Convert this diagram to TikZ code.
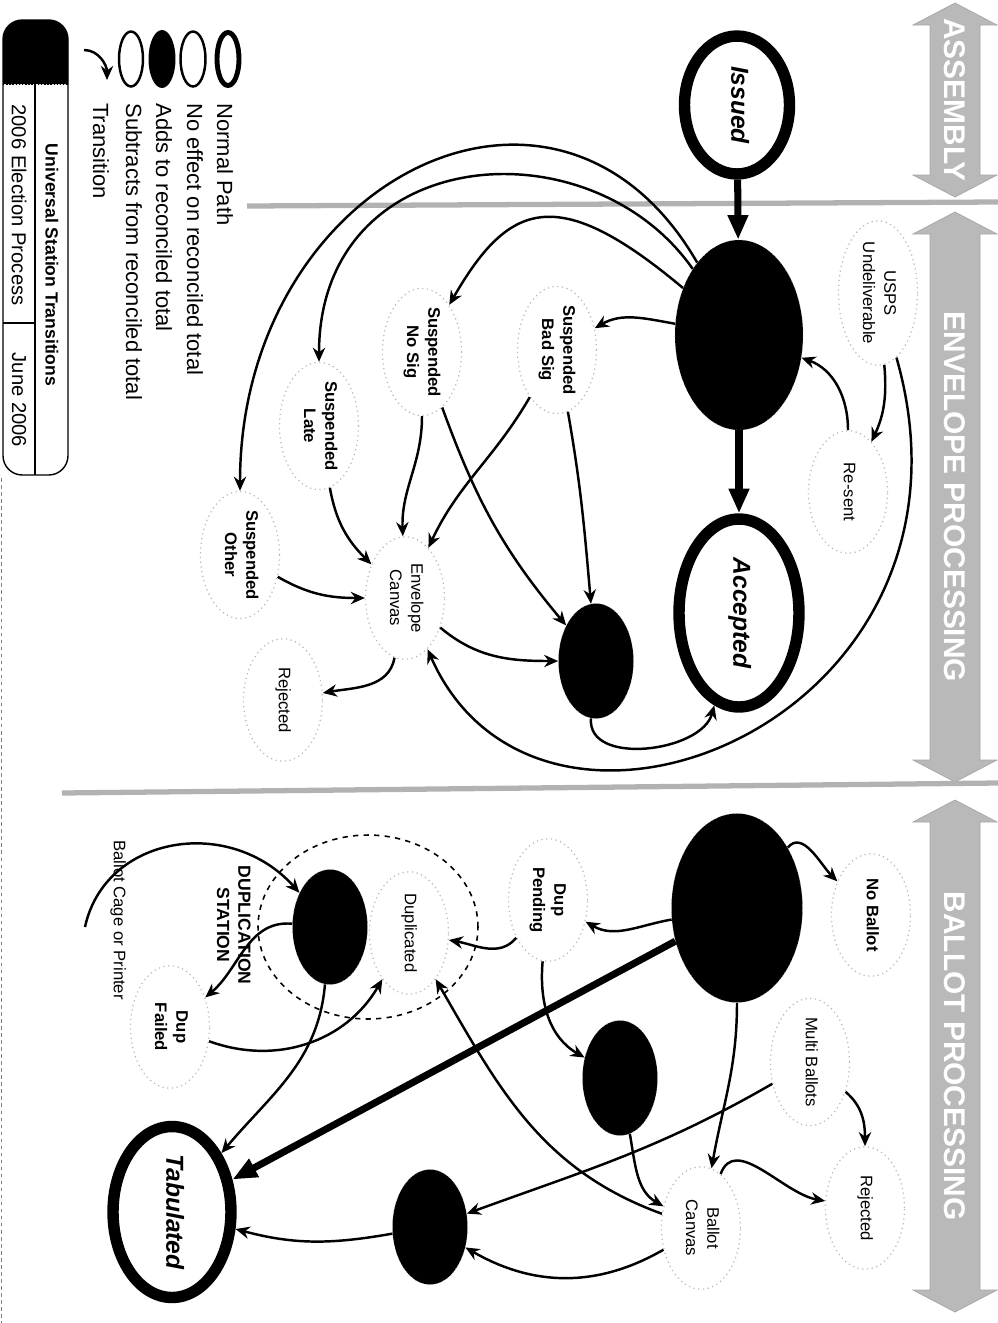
\documentclass[tikz,border=0pt]{standalone}
\usepackage{fontspec}
\setmainfont{Liberation Sans}
\usetikzlibrary{arrows.meta, shapes.geometric}
\newcommand{\lblsize}{\fontsize{9.5}{12}\selectfont}
\newcommand{\turn}[1]{\rotatebox{-90}{\begin{tabular}{@{}c@{}}#1\end{tabular}}} % text reads down the page
\tikzset{
x=0.02cm, y=0.02cm, % one unit is one pixel of the page
>={Stealth[length=8pt, width=7pt]}, % filled arrow heads
state/.style={ellipse, inner sep=0pt, font=\lblsize}, % every state
normal/.style={state, draw, line width=6.5pt, font=\fontsize{14}{16}\selectfont\bfseries\itshape}, % normal path
adds/.style={state, fill=black, draw=gray, dotted, minimum width=1.5cm, minimum height=2.3cm}, % adds to reconciled total
subtracts/.style={state, draw=gray!55, dotted, line width=0.7pt, minimum width=1.58cm, minimum height=2.45cm}, % subtracts from reconciled total
bold/.style={font=\lblsize\bfseries},
trans/.style={->, line width=1.4pt}, % a transition
mainpath/.style={-{Triangle[length=14pt, width=11pt]}, line width=4pt}, % the normal path
ring/.style={ellipse, draw, dashed, line width=0.9pt, minimum width=4.4cm, minimum height=3.68cm},
bandfill/.style={fill=gray!55, draw=gray!70},
bandtext/.style={rotate=-90, text=white, font=\fontsize{17}{17}\selectfont\bfseries},
divider/.style={draw=gray!60, line width=3pt},
legend/.style={rotate=-90, anchor=west, inner sep=0pt, font=\fontsize{12.5}{14}\selectfont},
}

\begin{document}
\begin{tikzpicture}
        \useasboundingbox (0,0) rectangle (998,-1323);

        % section bands and dividers
        \foreach \t/\b/\name in {3/197/ASSEMBLY, 212/782/ENVELOPE PROCESSING, 800/1312/BALLOT PROCESSING}{
            \fill[bandfill] (955,-\t) -- (997,{-\t-22}) -- (980,{-\t-22}) -- (980,{-\b+22}) -- (997,{-\b+22})
                -- (955,-\b) -- (913,{-\b+22}) -- (930,{-\b+22}) -- (930,{-\t-22}) -- (913,{-\t-22}) -- cycle;
            \node[bandtext] at (955,{-(\t+\b)/2}) {\name};
        }
        \draw[divider] (247,-206) -- (998,-202);
        \draw[divider] (62,-793) -- (998,-783);

        % legend and title block
        \node[normal, line width=2.8pt, minimum width=0.44cm, minimum height=1.06cm] (lgnormal) at (228,-59) {};
        \node[state, draw, line width=1.4pt, minimum width=0.5cm, minimum height=1.1cm] (lgnone) at (193,-59) {};
        \node[state, fill=black, minimum width=0.54cm, minimum height=1.16cm] (lgadds) at (162,-59) {};
        \node[state, draw, line width=1.4pt, minimum width=0.48cm, minimum height=1.1cm] (lgsubs) at (131,-59) {};
        \coordinate (lgfrom) at (84,-50);
        \coordinate (lgto) at (107,-80);
        \draw[trans] (lgfrom) to[out=0, in=90] (lgto);
        \node[legend] (lgt1) at (225,-103) {Normal Path};
        \node[legend] (lgt2) at (195,-103) {No effect on reconciled total};
        \node[legend] (lgt3) at (164,-103) {Adds to reconciled total};
        \node[legend] (lgt4) at (134,-103) {Subtracts from reconciled total};
        \node[legend] (lgt5) at (101,-103) {Transition};

        \fill (3,-84) [rounded corners=11pt] -- (3,-20) -- (68,-20) [sharp corners] -- (68,-84) -- cycle;
        \draw[line width=0.8pt, rounded corners=11pt] (3,-20) rectangle (68,-475);
        \draw[densely dotted, line width=0.8pt] (3,-84) -- (68,-84);
        \draw[line width=0.8pt] (35,-84) -- (35,-475);
        \draw[line width=0.8pt] (3,-323) -- (35,-323);
        \node[rotate=-90, font=\fontsize{10}{11}\selectfont\bfseries] (title) at (52,-265) {Universal Station Transitions};
        \node[rotate=-90, font=\fontsize{11.5}{12}\selectfont] (process) at (19,-205) {2006 Election Process};
        \node[rotate=-90, font=\fontsize{11.5}{12}\selectfont] (date) at (19,-400) {June 2006};
        \draw[gray, dash pattern=on 2pt off 2pt, line width=0.8pt] (1.5,-478) -- (1.5,-1323);

        % envelope processing
        \node[normal, minimum width=2.1cm, minimum height=2.76cm] (issued) at (737,-105) {\turn{Issued}};
        \node[adds, minimum width=2.56cm, minimum height=3.8cm] (recv) at (739,-335) {};
        \node[normal, minimum width=2.4cm, minimum height=3.76cm] (accepted) at (739,-613) {\turn{Accepted}};
        \node[subtracts] (usps) at (878,-293) {\turn{USPS\\Undeliverable}};
        \node[subtracts] (resent) at (848,-492) {\turn{Re-sent}};
        \node[subtracts, bold] (badsig) at (557,-350) {\turn{Suspended\\Bad Sig}};
        \node[subtracts, bold] (nosig) at (422,-352) {\turn{Suspended\\No Sig}};
        \node[subtracts, bold] (late) at (319,-426) {\turn{Suspended\\Late}};
        \node[subtracts, bold] (other) at (240,-555) {\turn{Suspended\\Other}};
        \node[subtracts] (envcanvas) at (405,-598) {\turn{Envelope\\Canvas}};
        \node[subtracts] (envrejected) at (283,-700) {\turn{Rejected}};
        \node[adds] (envok) at (596,-661) {};

        \draw[mainpath] (issued) -- (recv);
        \draw[mainpath] (recv) -- (accepted);
        \draw[trans] (recv) edge[out=170, in=30] (badsig)
                            edge[out=140, in=60, out looseness=1.8, in looseness=1.3] (nosig)
                            edge[out=125, in=90, out looseness=1.2, in looseness=1.45] (late)
                            edge[out=120, in=90, out looseness=1.4, in looseness=1.55] (other)
                     (usps) edge[out=-85, in=65] (resent)
                     (resent) edge[out=90, in=-20] (recv)
                     (badsig) edge[out=-80, in=95] (envok)
                              edge[out=-120, in=65] (envcanvas)
                     (nosig) edge[out=-90, in=92] (envcanvas)
                             edge[out=-70, in=130] (envok)
                     (late) edge[out=-80, in=135] (envcanvas)
                     (other) edge[out=-30, in=180] (envcanvas)
                     (envcanvas) edge[out=-40, in=180] (envok)
                                 edge[out=-100, in=10] (envrejected)
                     (envok) edge[out=-95, in=-105] (accepted);
        \draw[trans] (usps) .. controls (1000,-720) and (540,-905) .. (envcanvas);

        % ballot processing
        \node[adds, minimum width=2.62cm, minimum height=3.78cm] (opened) at (737,-908) {};
        \node[subtracts, bold] (noballot) at (871,-915) {\turn{No Ballot}};
        \node[subtracts, bold] (duppending) at (548,-900) {\turn{Dup\\Pending}};
        \node[subtracts] (multi) at (810,-1062) {\turn{Multi Ballots}};
        \node[subtracts] (balrejected) at (865,-1208) {\turn{Rejected}};
        \node[subtracts] (ballotcanvas) at (701,-1228) {\turn{Ballot\\Canvas}};
        \node[adds] (verified) at (620,-1078) {};
        \node[ring] (dupring) at (368,-927) {};
        \node[adds] (dupstation) at (330,-927) {};
        \node[subtracts] (duplicated) at (409,-933) {\turn{Duplicated}};
        \node[font=\fontsize{10}{12}\selectfont\bfseries] (duplabel) at (232,-925) {\turn{DUPLICATION\\STATION}};
        \node[subtracts, bold] (dupfailed) at (170,-1027) {\turn{Dup\\Failed}};
        \node[normal, minimum width=2.36cm, minimum height=3.42cm] (tabulated) at (172,-1212) {\turn{Tabulated}};
        \node[adds] (tallied) at (430,-1227) {};
        \node[font=\lblsize] (cagetext) at (118,-920) {\turn{Ballot Cage or Printer}};
        \coordinate (cage) at (85,-927);

        \draw[mainpath] (opened) -- (tabulated);
        \draw[trans] (opened) edge[out=50, in=135] (noballot)
                              edge[out=-170, in=-30] (duppending)
                              edge[out=-90, in=80] (ballotcanvas)
                     (multi) edge[out=-40, in=90] (balrejected)
                             edge[out=-150, in=20] (tallied)
                     (ballotcanvas) edge[out=70, in=170] (balrejected)
                                    edge[out=-150, in=-30] (tallied)
                                    edge[out=160, in=-60] (duplicated)
                     (duppending) edge[out=-95, in=150] (verified)
                                  edge[out=-130, in=-10] (duplicated)
                     (verified) edge[out=-80, in=150] (ballotcanvas)
                     (dupstation) edge[out=175, in=40] (dupfailed)
                                  edge[out=-95, in=50] (tabulated)
                     (dupfailed) edge[out=-20, in=-120] (duplicated)
                     (tallied) edge[out=-170, in=-15] (tabulated);
        \draw[trans] (cage) .. controls (105,-835) and (230,-815) .. (dupstation);
\end{tikzpicture}
\end{document}
